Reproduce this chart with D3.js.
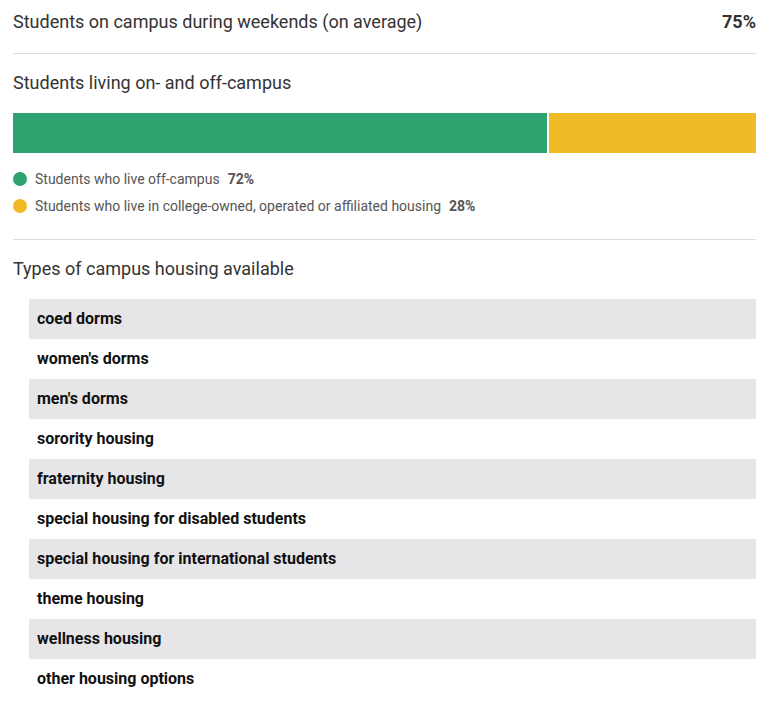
<!DOCTYPE html>
<html><head><meta charset="utf-8">
<script src="https://cdn.jsdelivr.net/npm/d3@7"></script>
<style>body{margin:0;background:#fff;}svg{display:block;}</style>
</head><body>
<script>
const weekendLabel = "Students on campus during weekends (on average)";
const weekendValue = 75;
const livingTitle = "Students living on- and off-campus";
const livingCategories = ["Students who live off-campus", "Students who live in college-owned, operated or affiliated housing"];
const livingValues = [72, 28];
const livingColors = ["#2ea370", "#f0bb25"];
const housingTitle = "Types of campus housing available";
const housingTypes = ["coed dorms","women's dorms","men's dorms","sorority housing","fraternity housing","special housing for disabled students","special housing for international students","theme housing","wellness housing","other housing options"];

const W = 768, H = 702, L = 13, R = 756;
const svg = d3.select("body").append("svg").attr("width", W).attr("height", H);
const font = "Roboto, sans-serif";

svg.append("text").attr("x", L).attr("y", 28).attr("font-family", font).attr("font-size", 18).attr("fill", "#333").text(weekendLabel);
svg.append("text").attr("x", R).attr("y", 28).attr("text-anchor", "end").attr("font-family", font).attr("font-size", 18).attr("font-weight", "bold").attr("fill", "#333").text(weekendValue + "%");
svg.append("line").attr("x1", L).attr("x2", R).attr("y1", 53.5).attr("y2", 53.5).attr("stroke", "#ddd");

svg.append("text").attr("x", L).attr("y", 89).attr("font-family", font).attr("font-size", 18).attr("fill", "#333").text(livingTitle);

const x = d3.scaleLinear().domain([0, d3.sum(livingValues)]).range([L, R]);
const cum = livingValues.map((v, i) => d3.sum(livingValues.slice(0, i)));
svg.selectAll("rect.seg").data(livingValues).join("rect").attr("class", "seg")
  .attr("x", (d, i) => x(cum[i]) + (i > 0 ? 1 : 0))
  .attr("width", (d, i) => x(cum[i] + d) - x(cum[i]) - (i > 0 ? 1 : 0) - (i < livingValues.length - 1 ? 1 : 0))
  .attr("y", 113).attr("height", 40).attr("fill", (d, i) => livingColors[i]);

const leg = svg.selectAll("g.leg").data(livingCategories).join("g").attr("class", "leg")
  .attr("transform", (d, i) => `translate(0,${179 + i * 27})`);
leg.append("circle").attr("cx", 20).attr("cy", 0).attr("r", 7).attr("fill", (d, i) => livingColors[i]);
const lt = leg.append("text").attr("x", 35).attr("y", 5).attr("font-family", font).attr("font-size", 14).attr("fill", "#555");
lt.append("tspan").text(d => d);
lt.append("tspan").attr("dx", 8).attr("font-weight", "bold").text((d, i) => livingValues[i] + "%");

svg.append("line").attr("x1", L).attr("x2", R).attr("y1", 239.5).attr("y2", 239.5).attr("stroke", "#ddd");
svg.append("text").attr("x", L).attr("y", 275).attr("font-family", font).attr("font-size", 18).attr("fill", "#333").text(housingTitle);

const y = d3.scaleBand().domain(housingTypes).range([299, 299 + 40 * housingTypes.length]);
const rows = svg.selectAll("g.row").data(housingTypes).join("g").attr("class", "row")
  .attr("transform", d => `translate(0,${y(d)})`);
rows.append("rect").attr("x", 29).attr("width", R - 29).attr("height", y.bandwidth())
  .attr("fill", (d, i) => i % 2 === 0 ? "#e6e6e9" : "#fff");
rows.append("text").attr("x", 37).attr("y", y.bandwidth() / 2 + 5).attr("font-family", font).attr("font-size", 16).attr("font-weight", "bold").attr("fill", "#111").text(d => d);
</script>
</body></html>
